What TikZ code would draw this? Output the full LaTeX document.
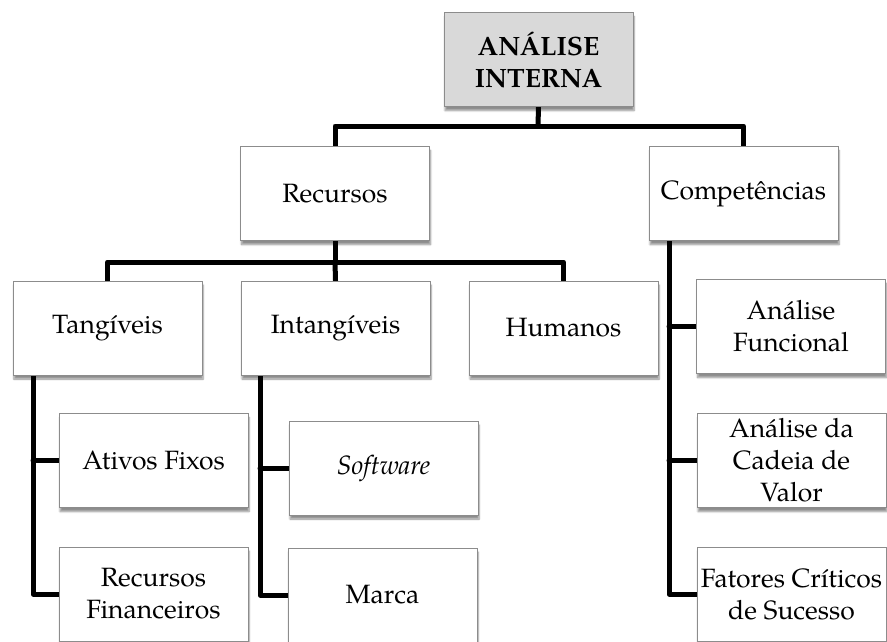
\documentclass[tikz,border=0pt]{standalone}
\usepackage{fontspec}
\setmainfont{TeX Gyre Pagella}
\usetikzlibrary{shadows.blur,calc,backgrounds}
\definecolor{boxline}{HTML}{8C8C8C}
\definecolor{rootfill}{HTML}{D9D9D9}
\tikzset{
  box/.style={draw=boxline, line width=0.8pt, fill=white, rectangle,
    minimum width=189pt, minimum height=94pt, inner sep=1pt, align=center,
    font=\fontsize{26.5}{32}\selectfont,
    blur shadow={shadow xshift=1pt, shadow yshift=-4pt, shadow blur steps=6, shadow opacity=45}},
  rootbox/.style={box, fill=rootfill, font=\fontsize{26.5}{32}\selectfont\bfseries},
  conn/.style={line width=5pt, line join=round, line cap=round}
}
\begin{document}
\begin{tikzpicture}[x=1pt,y=-1pt]
\useasboundingbox (0,0) rectangle (887,641);
\coordinate (h1) at (538,126);
\coordinate (h2) at (335,262);
\coordinate (tt) at (33,375);
\coordinate (it) at (260,375);
\coordinate (ct) at (669,240);
\node[rootbox] (root) at (538.5,59.5) {ANÁLISE\\INTERNA};
\node[box] (rec) at (335,193.5) {Recursos};
\node[box] (comp) at (743.5,193.5) {Competências};
\node[box] (tang) at (107.5,328) {Tangíveis};
\node[box] (intang) at (335.5,328) {Intangíveis};
\node[box] (hum) at (563.5,328) {Humanos};
\node[box] (atv) at (153.5,460.5) {Ativos Fixos};
\node[box] (rfin) at (153.5,594) {Recursos\\Financeiros};
\node[box] (soft) at (383.5,468) {\itshape Software};
\node[box] (marca) at (382.5,595) {Marca};
\node[box] (af) at (791,326.5) {Análise\\Funcional};
\node[box] (acv) at (791.5,460.5) {Análise da\\Cadeia de\\Valor};
\node[box, inner sep=0pt] (fcs) at (791.5,594) {Fatores Críticos\\de Sucesso};
\begin{scope}[on background layer]
\draw[conn] (root.south) -- (h1);
\draw[conn] (rec.north) |- (h1) -| (comp.north);
\draw[conn] (rec.south) -- (h2);
\draw[conn] (tang.north) |- (h2) -| (hum.north);
\draw[conn] (intang.north) -- (h2);
\draw[conn] (tt) |- (rfin.west);
\draw[conn] (tt |- atv.west) -- (atv.west);
\draw[conn] (it) |- (marca.west);
\draw[conn] (it |- soft.west) -- (soft.west);
\draw[conn] (ct) |- (fcs.west);
\draw[conn] (ct |- af.west) -- (af.west);
\draw[conn] (ct |- acv.west) -- (acv.west);
\end{scope}
\end{tikzpicture}
\end{document}
